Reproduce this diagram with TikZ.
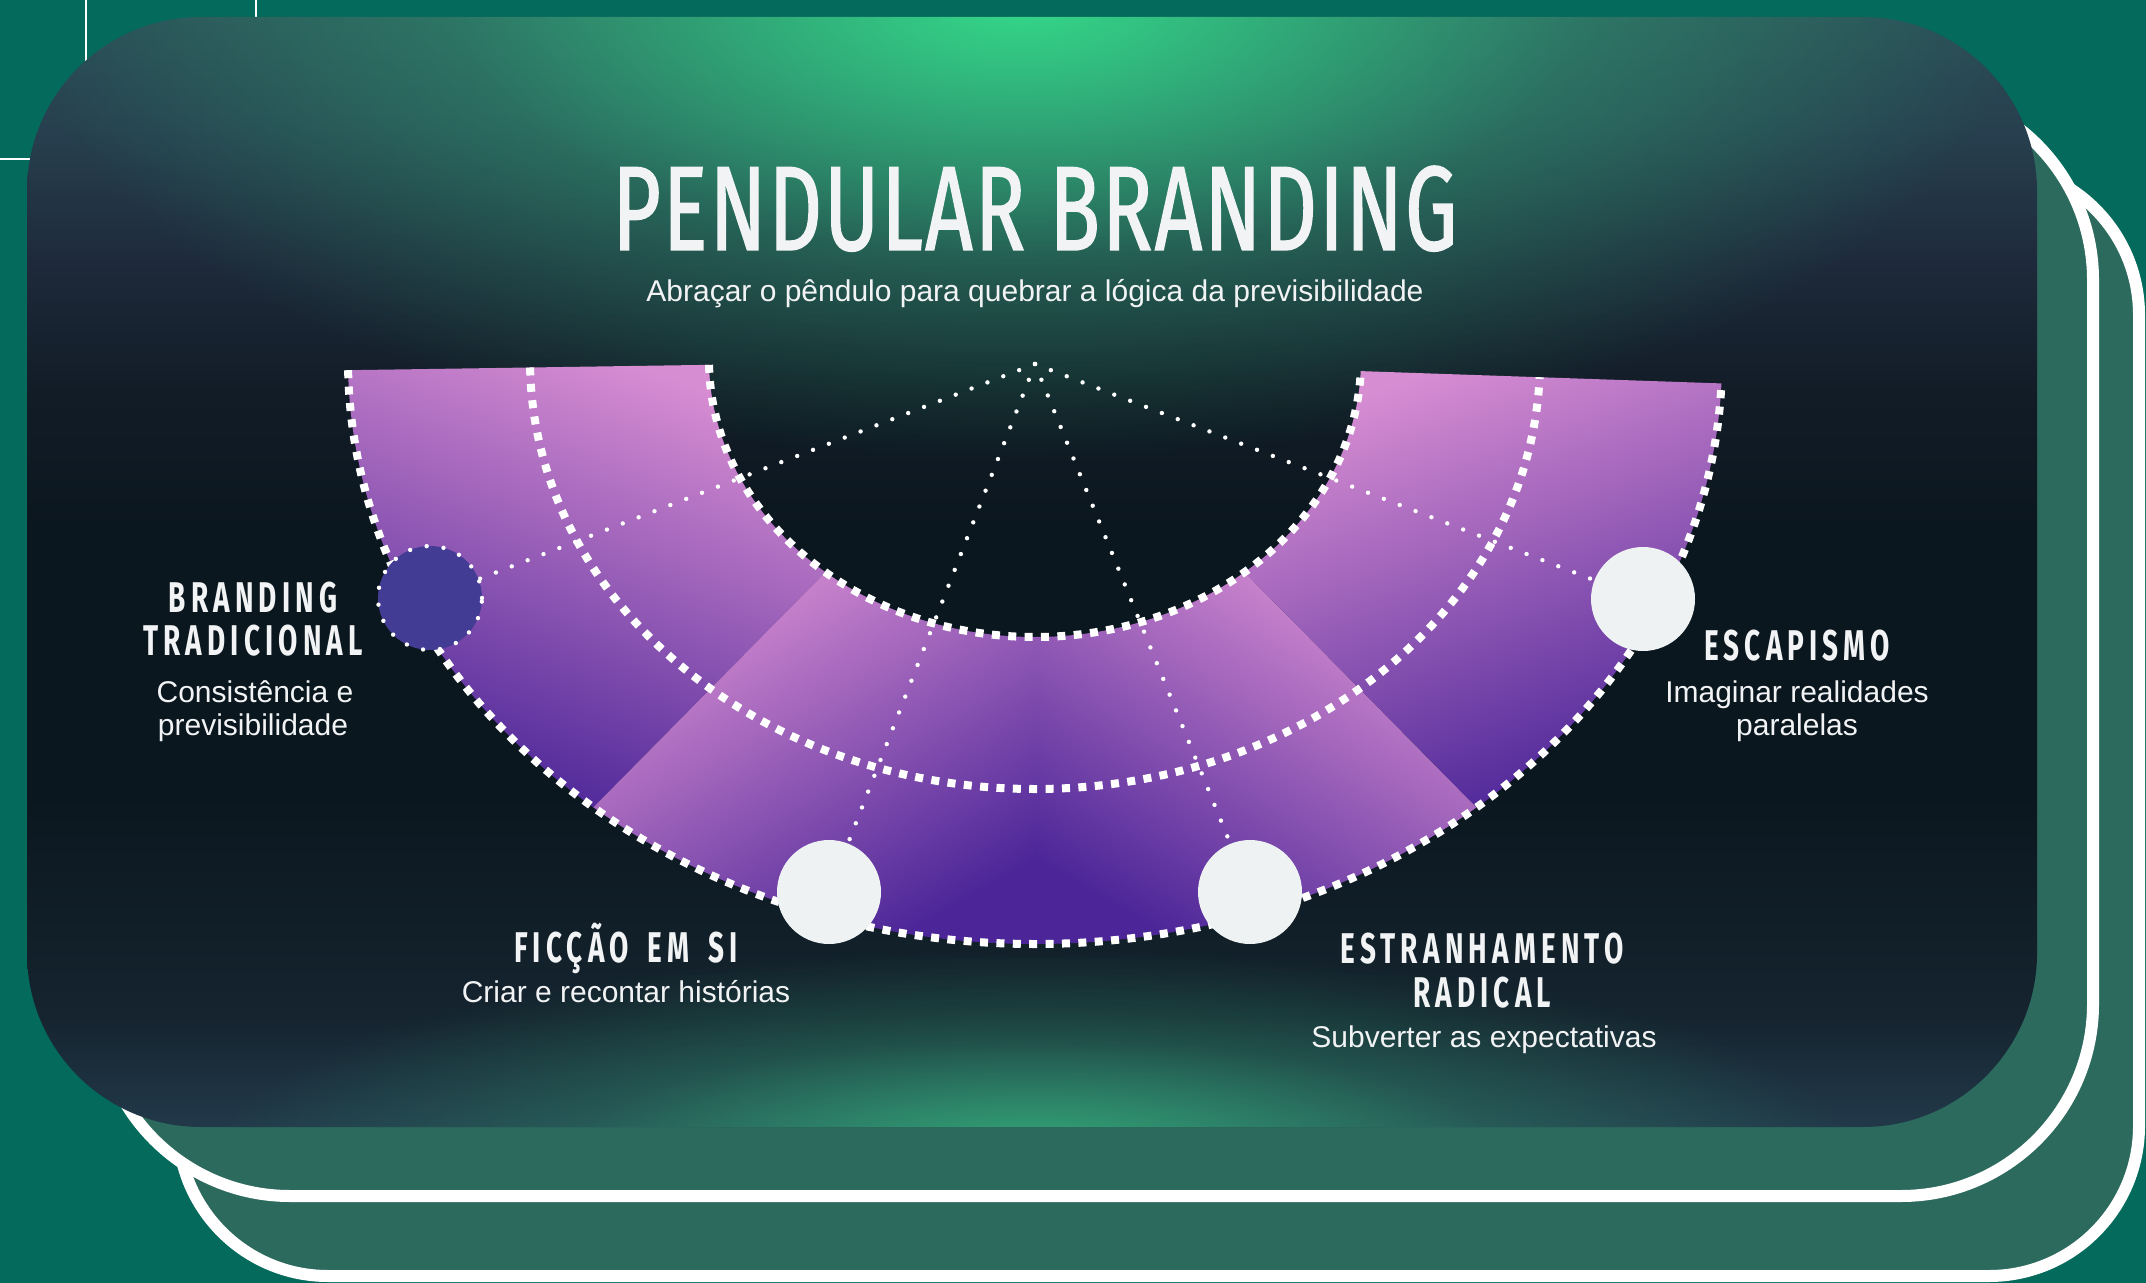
\documentclass[tikz,border=0pt]{standalone}
\usepackage{fontspec}
\setmainfont{Liberation Sans}
\newfontfamily\titlefont{Fira Sans}[FakeStretch=0.69,FakeBold=1.2,LetterSpace=2]
\newfontfamily\headfont{Fira Sans}[FakeStretch=0.65,LetterSpace=12,WordSpace=1.6]
\usetikzlibrary{fadings}

\definecolor{pagebg}{HTML}{036A5C}
\definecolor{cardback}{HTML}{2C6A5D}
\definecolor{cardbot}{HTML}{22394A}
\definecolor{cardlow}{HTML}{15242F}
\definecolor{cardmid}{HTML}{0B171F}
\definecolor{cardband}{HTML}{121C27}
\definecolor{cardhigh}{HTML}{1E2A3B}
\definecolor{cardupper}{HTML}{27404F}
\definecolor{cardtop}{HTML}{2B4C56}
\definecolor{glowtop}{HTML}{34D98A}
\definecolor{glowbot}{HTML}{33A878}
\definecolor{bandpink}{HTML}{D78DD2}
\definecolor{banddark}{HTML}{4C2698}
\definecolor{dotfill}{HTML}{433C94}
\definecolor{bubble}{HTML}{EEF2F3}
\definecolor{inktext}{HTML}{F2F3F4}

% card background, bottom to top (card spans 25bp..75bp)
\pgfdeclareverticalshading{cardshade}{100bp}{color(0bp)=(cardbot); color(25bp)=(cardbot);
  color(30bp)=(cardlow); color(40bp)=(cardmid); color(52bp)=(cardmid); color(58bp)=(cardband);
  color(64bp)=(cardhigh); color(70bp)=(cardupper); color(75bp)=(cardtop); color(100bp)=(cardtop)}
% soft glow, strong in the middle
\pgfdeclareradialshading{glowshape}{\pgfpointorigin}{color(0bp)=(transparent!0);
  color(6bp)=(transparent!30); color(14bp)=(transparent!70); color(25bp)=(transparent!100); color(50bp)=(transparent!100)}
\pgfdeclarefading{glowfade}{\pgfuseshading{glowshape}}

\tikzset{
	guide/.style={draw=white, line width=1pt},
	backcard/.style={draw=white, fill=cardback, line width=6pt},
	bandedge/.style={draw=white, line width=4pt, dash pattern=on 4pt off 4.2pt},
	dotline/.style={draw=white, line width=2.2pt, line cap=round, dash pattern=on 0pt off 8.5pt},
	bubblenode/.style={circle, fill=bubble, minimum size=52pt, inner sep=0pt},
	startnode/.style={circle, fill=dotfill, minimum size=52pt, inner sep=0pt, dotline},
	head/.style={text=inktext, font=\headfont\bfseries\fontsize{21.5}{24}\selectfont, anchor=base, inner sep=0pt},
	desc/.style={text=inktext, font=\fontsize{15}{18}\selectfont, anchor=base, inner sep=0pt}}

\begin{document}
\begin{tikzpicture}[x=0.5pt,y=0.5pt,yscale=-1,xscale=1]
	\useasboundingbox (0,0) rectangle (2146,1283);
	% page
	\fill[pagebg] (0,0) rectangle (2146,1283);
	% thin lines behind the cards
	\draw[guide] (86,0) -- (86,80);
	\draw[guide] (256,0) -- (256,30);
	\draw[guide] (0,159) -- (50,159);
	% stacked cards
	\draw[backcard, rounded corners=75pt] (178,165) rectangle (2139,1276);
	\draw[backcard, rounded corners=96pt] (98,88) rectangle (2093,1196);
	% main card
	\shade[shading=cardshade, rounded corners=87pt] (27,17) rectangle (2037,1127);
	\begin{scope}
		\clip[rounded corners=87pt] (27,17) rectangle (2037,1127);
		\fill[glowtop, path fading=glowfade] (1020,0) ellipse [x radius=1000, y radius=460];
		\fill[glowbot, path fading=glowfade] (1035,1150) ellipse [x radius=820, y radius=200];
	\end{scope}

	% pendulum band
	\begin{scope}[shift={(1035,360)}]
		\foreach \ta/\tb/\ang in {179/130/-20, 130/90/30, 90/50/-30, 50/2.3/20}
			\shade[top color=bandpink, bottom color=banddark, shading angle=\ang]
				(\ta:687 and 584) arc[start angle=\ta, end angle=\tb, x radius=687, y radius=584]
				-- (\tb:326 and 277) arc[start angle=\tb, end angle=\ta, x radius=326, y radius=277] -- cycle;
	\end{scope}

	% swing lines
	\coordinate (pivot) at (1035,364);
	\coordinate (ptrad) at (430,598);
	\coordinate (pfic) at (829,892);
	\coordinate (pestr) at (1250,892);
	\coordinate (pesc) at (1643,599);
	\foreach \p in {ptrad,pfic,pestr,pesc}
		\draw[dotline] (pivot) -- (\p);

	\begin{scope}[shift={(1035,360)}]
		\draw[bandedge] (179:687 and 584) arc[start angle=179, end angle=2.3, x radius=687, y radius=584];
		\draw[bandedge] (179:505 and 429) arc[start angle=179, end angle=2.3, x radius=505, y radius=429];
		\draw[bandedge] (179:326 and 277) arc[start angle=179, end angle=2.3, x radius=326, y radius=277];
	\end{scope}

	% stops of the pendulum
	\node[startnode] (trad) at (ptrad) {};
	\node[bubblenode] (fic) at (pfic) {};
	\node[bubblenode] (estr) at (pestr) {};
	\node[bubblenode] (esc) at (pesc) {};

	% title
	\node[text=inktext, font=\titlefont\fontsize{60}{60}\selectfont, anchor=base, inner sep=0pt] (title) at (1035,250) {PENDULAR BRANDING};
	\node[desc] (subtitle) at (1035,302) {Abraçar o pêndulo para quebrar a lógica da previsibilidade};

	% labels
	\node[head] (tradA) at (253,612) {BRANDING};
	\node[head] (tradB) at (253,655) {TRADICIONAL};
	\node[desc] (tradC) at (255,702) {Consistência e};
	\node[desc] (tradD) at (253,735) {previsibilidade};

	\node[head] (ficA) at (626,962) {FICÇÃO EM SI};
	\node[desc] (ficB) at (626,1002) {Criar e recontar histórias};

	\node[head] (estrA) at (1482,963) {ESTRANHAMENTO};
	\node[head] (estrB) at (1482,1007) {RADICAL};
	\node[desc] (estrC) at (1484,1047) {Subverter as expectativas};

	\node[head] (escA) at (1797,660) {ESCAPISMO};
	\node[desc] (escB) at (1797,702) {Imaginar realidades};
	\node[desc] (escC) at (1797,735) {paralelas};
\end{tikzpicture}
\end{document}
